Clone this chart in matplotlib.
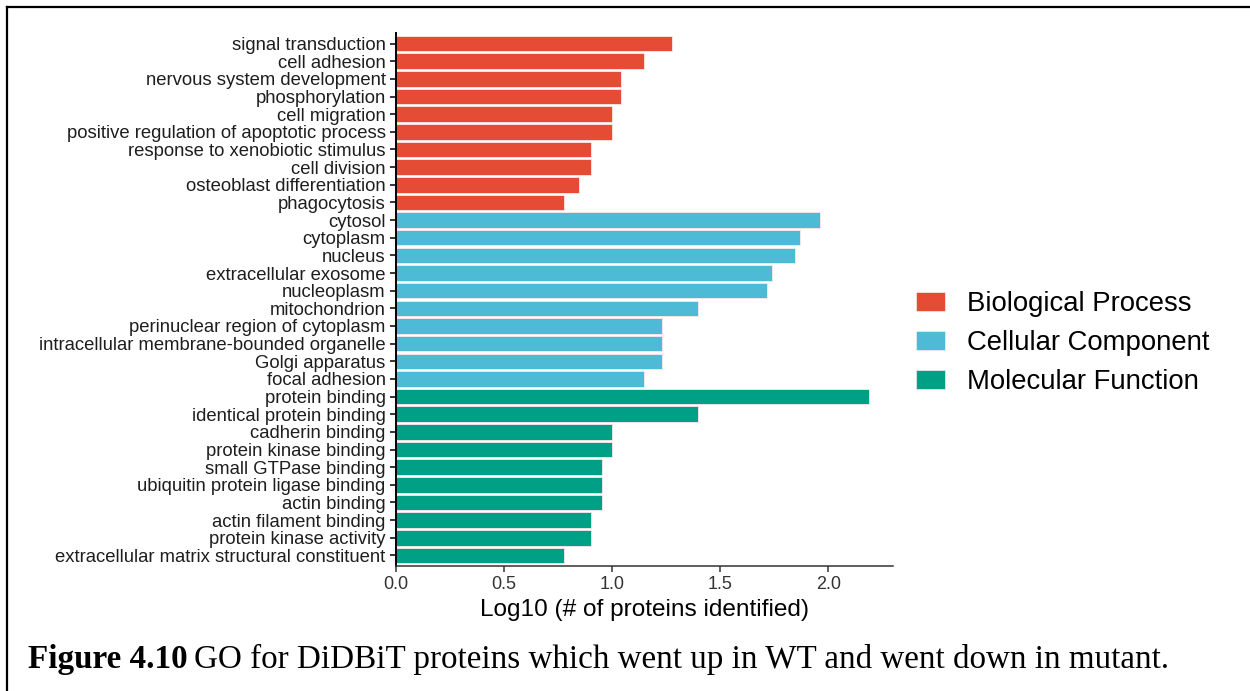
# GO de proteinas DiDBiT (barras horizontales)
import numpy as np
import matplotlib.pyplot as plt
from matplotlib.patches import Patch
from matplotlib.lines import Line2D

terminos = ['signal transduction', 'cell adhesion', 'nervous system development',
            'phosphorylation', 'cell migration', 'positive regulation of apoptotic process',
            'response to xenobiotic stimulus', 'cell division', 'osteoblast differentiation',
            'phagocytosis',
            'cytosol', 'cytoplasm', 'nucleus', 'extracellular exosome', 'nucleoplasm',
            'mitochondrion', 'perinuclear region of cytoplasm',
            'intracellular membrane-bounded organelle', 'Golgi apparatus', 'focal adhesion',
            'protein binding', 'identical protein binding', 'cadherin binding',
            'protein kinase binding', 'small GTPase binding', 'ubiquitin protein ligase binding',
            'actin binding', 'actin filament binding', 'protein kinase activity',
            'extracellular matrix structural constituent']

valores = [1.279, 1.146, 1.041, 1.041, 1.000, 1.000, 0.903, 0.903, 0.845, 0.778,
           1.964, 1.869, 1.845, 1.740, 1.716, 1.398, 1.230, 1.230, 1.230, 1.146,
           2.190, 1.398, 1.000, 1.000, 0.954, 0.954, 0.954, 0.903, 0.903, 0.778]

grupos = ['Biological Process'] * 10 + ['Cellular Component'] * 10 + ['Molecular Function'] * 10
nombres_grupo = ['Biological Process', 'Cellular Component', 'Molecular Function']
colores = {'Biological Process': '#E64B35',
           'Cellular Component': '#4DBBD5',
           'Molecular Function': '#00A087'}

plt.rcParams['font.family'] = ['Liberation Sans', 'DejaVu Sans']

fig = plt.figure(figsize=(12.5, 6.91), dpi=100)
ax = fig.add_axes([396 / 1250, 1 - 566 / 691, (893 - 396) / 1250, (566 - 33) / 691])

n = len(terminos)
yi = np.arange(n)
ax.barh(yi, valores, height=0.88, color=[colores[g] for g in grupos],
        edgecolor='#fbe9e6', linewidth=0.6)

ax.set_yticks(yi)
ax.set_yticklabels(terminos, fontsize=13.3, color='#1e1e1e')
ax.set_ylim(n - 0.4, -0.6)
ax.set_xlim(0, 2.30)
ax.set_xticks([0, 0.5, 1.0, 1.5, 2.0])
ax.set_xticklabels(['0.0', '0.5', '1.0', '1.5', '2.0'], fontsize=13, color='#333333')
ax.set_xlabel('Log10 (# of proteins identified)', fontsize=17.6, labelpad=4.5)

for lado in ['top', 'right']:
    ax.spines[lado].set_visible(False)
ax.spines['left'].set_linewidth(1.4)
ax.spines['bottom'].set_linewidth(1.1)
ax.spines['bottom'].set_color('#333333')
ax.tick_params(axis='y', length=4, width=1.1, pad=3.5)
ax.tick_params(axis='x', length=4, width=1.1, color='#333333', pad=3)

# leyenda
handles = [Patch(facecolor=colores[g], edgecolor='#f0f0f0', linewidth=0.5) for g in nombres_grupo]
fig.legend(handles, nombres_grupo, loc='center left', bbox_to_anchor=(905 / 1250, 1 - 343 / 691),
           frameon=False, fontsize=19.8, handlelength=1.05, handleheight=0.72,
           handletextpad=0.8, labelspacing=0.47, borderaxespad=0)

# marco del documento
fig.add_artist(Line2D([7 / 1250, 1], [1 - 7 / 691, 1 - 7 / 691], color='black', linewidth=1.6))
fig.add_artist(Line2D([7 / 1250, 7 / 1250], [0, 1 - 7 / 691], color='black', linewidth=1.6))

# pie de figura
t1 = fig.text(28 / 1250, 1 - 668 / 691, 'Figure 4.10', fontsize=23.9, fontweight='bold',
              family='Liberation Serif', va='baseline')
rend = fig.canvas.get_renderer()
caja = t1.get_window_extent(renderer=rend)
x2 = (caja.x1 + 6) / fig.bbox.width
fig.text(x2, 1 - 668 / 691,
         'GO for DiDBiT proteins which went up in WT and went down in mutant.',
         fontsize=23.9, family='Liberation Serif', va='baseline')

fig.savefig('out.png', dpi=100)
